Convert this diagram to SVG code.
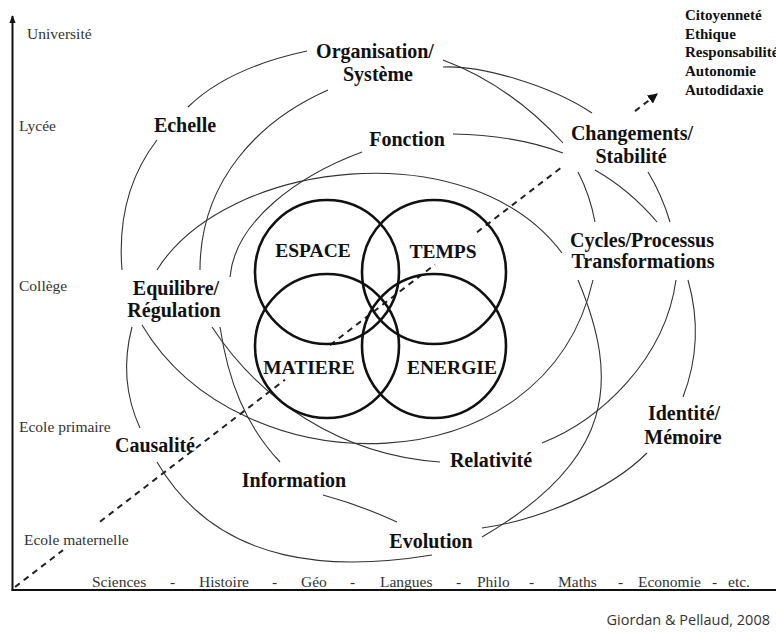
<svg xmlns="http://www.w3.org/2000/svg" width="776" height="633" viewBox="0 0 776 633">
<style>
.lbl{font-family:"Liberation Serif","Times New Roman",serif;font-weight:bold;font-size:20px;fill:#111;text-anchor:middle}
.cir{font-family:"Liberation Serif","Times New Roman",serif;font-weight:bold;font-size:19.5px;fill:#111;text-anchor:middle}
.lvl{font-family:"Liberation Serif","Times New Roman",serif;font-size:15.5px;fill:#333}
.val{font-family:"Liberation Serif","Times New Roman",serif;font-weight:bold;font-size:15px;fill:#111}
.src{font-family:"Open Sans","Liberation Sans",sans-serif;font-size:14.5px;fill:#333;text-anchor:end}
.c{fill:none;stroke:#333;stroke-width:1.1}
.ring{fill:none;stroke:#111;stroke-width:2.6}
.dash{fill:none;stroke:#222;stroke-width:2;stroke-dasharray:6 5}
.axis{fill:none;stroke:#111;stroke-width:2}
</style>
<defs>
<marker id="ah" viewBox="0 0 10 10" refX="9" refY="5" markerWidth="5" markerHeight="5" orient="auto" markerUnits="strokeWidth">
<path d="M0,0 L10,5 L0,10 z" fill="#111"/>
</marker>
<marker id="axh" viewBox="0 0 10 10" refX="9" refY="5" markerWidth="4" markerHeight="4" orient="auto" markerUnits="strokeWidth">
<path d="M0,1 L10,5 L0,9 z" fill="#111"/>
</marker>
</defs>
<rect width="776" height="633" fill="#fff"/>

<g id="axes">
<path class="axis" d="M12.5,591 L12.5,16" marker-end="url(#axh)"/>
<path class="axis" d="M11.5,590 L776,590"/>
</g>

<g id="levels">
<text class="lvl" x="27" y="39">Université</text>
<text class="lvl" x="19" y="131">Lycée</text>
<text class="lvl" x="19" y="291">Collège</text>
<text class="lvl" x="19" y="432">Ecole primaire</text>
<text class="lvl" x="24" y="545">Ecole maternelle</text>
</g>

<g id="disciplines">
<text class="lvl" x="92" y="587">Sciences</text>
<text class="lvl" x="170" y="587">-</text>
<text class="lvl" x="199" y="587">Histoire</text>
<text class="lvl" x="272" y="587">-</text>
<text class="lvl" x="301" y="587">Géo</text>
<text class="lvl" x="350" y="587">-</text>
<text class="lvl" x="380" y="587">Langues</text>
<text class="lvl" x="456" y="587">-</text>
<text class="lvl" x="477" y="587">Philo</text>
<text class="lvl" x="529" y="587">-</text>
<text class="lvl" x="558" y="587">Maths</text>
<text class="lvl" x="618" y="587">-</text>
<text class="lvl" x="638" y="587">Economie</text>
<text class="lvl" x="712" y="587">-</text>
<text class="lvl" x="728" y="587">etc.</text>
</g>

<g id="connectors">
<path class="c" d="M188,107 Q228,68 307,51"/>
<path class="c" d="M157,140 C130,175 118,220 122,270"/>
<path class="c" d="M328,90 C260,120 200,180 200,270"/>
<path class="c" d="M362,152 C300,175 235,220 230,277"/>
<path class="c" d="M157,270 C225,160 470,130 562,253"/>
<path class="c" d="M443,60 Q510,85 563,143"/>
<path class="c" d="M443,67 C480,65 550,85 592,113"/>
<path class="c" d="M453,134 Q515,135 563,153"/>
<path class="c" d="M578,172 Q590,195 595,222"/>
<path class="c" d="M595,170 Q630,190 657,222"/>
<path class="c" d="M648,172 Q662,195 670,222"/>
<path class="c" d="M593,280 C545,490 240,490 142,325"/>
<path class="c" d="M132,327 Q118,380 140,428"/>
<path class="c" d="M212,327 C260,400 340,455 440,462"/>
<path class="c" d="M220,327 C228,380 245,425 280,462"/>
<path class="c" d="M157,462 C220,570 340,570 432,555"/>
<path class="c" d="M323,495 Q360,505 397,522"/>
<path class="c" d="M542,443 C600,420 665,360 676,280"/>
<path class="c" d="M578,280 C620,380 615,460 482,537"/>
<path class="c" d="M482,528 C540,520 610,490 647,453"/>
<path class="c" d="M688,280 Q705,340 683,397"/>
<path class="dash" d="M15,587 L63,550.1"/>
<path class="dash" d="M100,521.7 L285,379.7"/>
<path class="dash" d="M330,345.1 L435,264.5"/>
<path class="dash" d="M477,232.2 L563,166.2"/>
<path class="dash" d="M635,111.1 L657,94" marker-end="url(#ah)"/>
</g>

<g id="espace"><circle class="ring" cx="327" cy="272" r="72"/><text class="cir" x="313" y="257">ESPACE</text></g>
<g id="temps"><circle class="ring" cx="434" cy="272" r="72"/><text class="cir" x="443" y="258">TEMPS</text></g>
<g id="matiere"><circle class="ring" cx="327" cy="346" r="72"/><text class="cir" x="309" y="374">MATIERE</text></g>
<g id="energie"><circle class="ring" cx="434" cy="346" r="72"/><text class="cir" x="452" y="374">ENERGIE</text></g>

<g id="organisation"><text class="lbl" x="375" y="58">Organisation/</text><text class="lbl" x="378" y="81">Système</text></g>
<g id="echelle"><text class="lbl" x="185" y="132">Echelle</text></g>
<g id="fonction"><text class="lbl" x="407" y="146">Fonction</text></g>
<g id="changements"><text class="lbl" x="632" y="140">Changements/</text><text class="lbl" x="631" y="163">Stabilité</text></g>
<g id="cycles"><text class="lbl" x="642" y="247">Cycles/Processus</text><text class="lbl" x="643" y="268">Transformations</text></g>
<g id="equilibre"><text class="lbl" x="176" y="295">Equilibre/</text><text class="lbl" x="174" y="317">Régulation</text></g>
<g id="causalite"><text class="lbl" x="155" y="452">Causalité</text></g>
<g id="information"><text class="lbl" x="294" y="487">Information</text></g>
<g id="relativite"><text class="lbl" x="491" y="467">Relativité</text></g>
<g id="evolution"><text class="lbl" x="431" y="548">Evolution</text></g>
<g id="identite"><text class="lbl" x="684" y="420">Identité/</text><text class="lbl" x="683" y="444">Mémoire</text></g>

<g id="values">
<text class="val" x="685" y="20">Citoyenneté</text>
<text class="val" x="685" y="38.5">Ethique</text>
<text class="val" x="685" y="57">Responsabilité</text>
<text class="val" x="685" y="76">Autonomie</text>
<text class="val" x="685" y="94.5">Autodidaxie</text>
</g>

<g id="source"><text class="src" x="770" y="625">Giordan &amp; Pellaud, 2008</text></g>
</svg>
